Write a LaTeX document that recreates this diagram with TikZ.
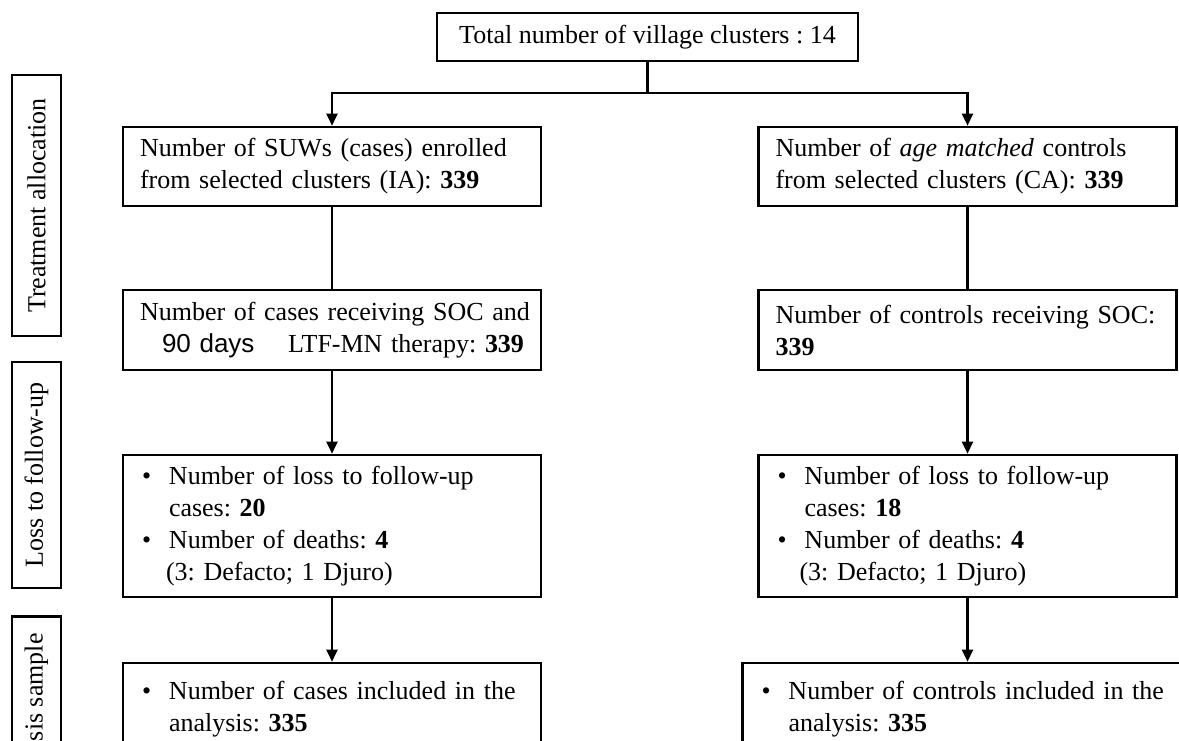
\documentclass[tikz,border=0pt]{standalone}
\usepackage{fontspec}
\setmainfont{Liberation Serif}
\setsansfont{Liberation Sans}
\usetikzlibrary{arrows.meta}
\frenchspacing
\newcommand{\bul}{\makebox[29pt][l]{\hspace{2pt}\textbullet}}
\begin{document}
\begin{tikzpicture}[x=1pt,y=-1pt,
  box/.style={draw,line width=2.6pt,rectangle,inner sep=0pt},
  txt/.style={font=\fontsize{26}{32}\selectfont\frenchspacing},
  tbox/.style={box,txt,align=left,text width=384pt,inner xsep=17pt,inner ysep=0pt},
  side/.style={box,txt,rotate=90,minimum height=49pt},
  conn/.style={line width=2.4pt},
  arr/.style={conn,-{Triangle[length=12pt,width=11pt]}}
]
\useasboundingbox (0,0) rectangle (1179,740);
\clip (0,0) rectangle (1179,740);
\fill[white] (0,0) rectangle (1179,740);

\node[box,txt,minimum width=421pt,minimum height=48pt] (top) at (647.5,37) {Total number of village clusters : 14};

\node[tbox,minimum height=79pt] (b1l) at (332,166.5) {\mbox{Number of SUWs (cases) enrolled}\\\mbox{from selected clusters (IA): \textbf{339}}};
\node[tbox,minimum height=79pt] (b1r) at (967.5,166.5) {\mbox{Number of \textit{age matched} controls}\\\mbox{from selected clusters (CA): \textbf{339}}};

\node[tbox,minimum height=80pt] (b2l) at (332,330) {\mbox{Number of cases receiving SOC and}\\\hspace*{22pt}{\sffamily 90 days}\hfill LTF-MN therapy: \textbf{339}};
\node[tbox,minimum height=80pt] (b2r) at (967.5,330) {\mbox{Number of controls receiving SOC:}\\\textbf{339}};

\node[tbox,minimum height=142pt] (b3l) at (332,526) {\bul\mbox{Number of loss to follow-up}\\\hspace*{29pt}cases: \textbf{20}\\\bul\mbox{Number of deaths: \textbf{4}}\\\hspace*{26pt}\mbox{(3: Defacto; 1 Djuro)}};
\node[tbox,minimum height=142pt] (b3r) at (967.5,526) {\bul\mbox{Number of loss to follow-up}\\\hspace*{29pt}cases: \textbf{18}\\\bul\mbox{Number of deaths: \textbf{4}}\\\hspace*{24pt}\mbox{(3: Defacto; 1 Djuro)}};

\node[tbox,minimum height=92pt] (b4l) at (332,709) {\bul\mbox{Number of cases included in the}\\\hspace*{29pt}analysis: \textbf{335}};
\node[tbox,text width=418pt,minimum height=92pt] (b4r) at (968.5,709) {\bul\mbox{Number of controls included in the}\\\hspace*{29pt}analysis: \textbf{335}};

\node[side,minimum width=261pt] (s1) at (36.5,205.5) {Treatment allocation};
\node[side,minimum width=226pt] (s2) at (36.5,475) {Loss to follow-up};
\node[side,minimum width=205pt] (s3) at (36.5,719) {Analysis sample};

\coordinate (j) at (647.5,93);
\draw[conn] (top.south) -- (j);
\draw[arr] (j) -| (b1l.north);
\draw[arr] (j) -| (b1r.north);
\draw[conn] (b1l.south) -- (b2l.north);
\draw[conn] (b1r.south) -- (b2r.north);
\draw[arr] (b2l.south) -- (b3l.north);
\draw[arr] (b2r.south) -- (b3r.north);
\draw[arr] (b3l.south) -- (b4l.north);
\draw[arr] (b3r.south) -- (b3r.south |- b4r.north);
\end{tikzpicture}
\end{document}
